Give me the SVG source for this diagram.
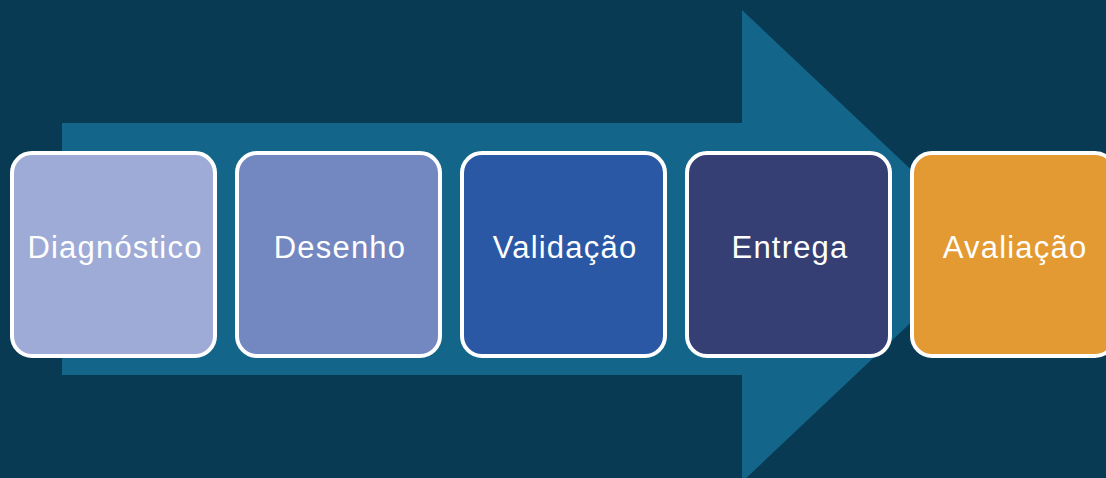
<svg xmlns="http://www.w3.org/2000/svg" width="1106" height="478" viewBox="0 0 1106 478">
<style>
.box{stroke:#ffffff;stroke-width:4}
.lbl{font-family:"Liberation Sans",Arial,sans-serif;font-size:31px;fill:#ffffff;text-anchor:middle;letter-spacing:1.2px}
</style>
<rect width="1106" height="478" fill="#093a53"/>
<g id="arrow">
<polygon points="62,123 742,123 742,10 992,246 742,482 742,375 62,375" fill="#13668a"/>
</g>
<g id="connectors"></g>
<g id="n1"><rect class="box" x="12" y="153" width="203" height="203" rx="20" fill="#9eabd6"/><text class="lbl" x="115" y="258">Diagnóstico</text></g>
<g id="n2"><rect class="box" x="237" y="153" width="203" height="203" rx="20" fill="#7387c1"/><text class="lbl" x="340" y="258">Desenho</text></g>
<g id="n3"><rect class="box" x="462" y="153" width="203" height="203" rx="20" fill="#2a58a5"/><text class="lbl" x="565" y="258">Validação</text></g>
<g id="n4"><rect class="box" x="687" y="153" width="203" height="203" rx="20" fill="#353f73"/><text class="lbl" x="790" y="258">Entrega</text></g>
<g id="n5"><rect class="box" x="912" y="153" width="203" height="203" rx="20" fill="#e39a32"/><text class="lbl" x="1015" y="258">Avaliação</text></g>
</svg>
